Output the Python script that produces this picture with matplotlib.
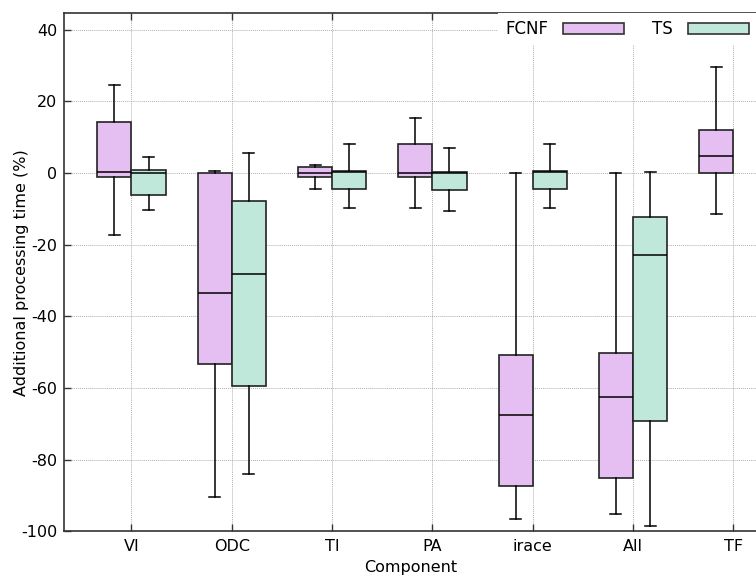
import matplotlib
matplotlib.use("Agg")
import matplotlib.pyplot as plt
from matplotlib.patches import Patch

plt.rcParams['font.family'] = ['DejaVu Sans']
plt.rcParams['font.size'] = 11.5

components = ["VI", "ODC", "TI", "PA", "irace", "All", "TF"]

# whisker low, q1, median, q3, whisker high  (per component)
fcnf_lo  = [-17.2, -90.4, -4.4, -9.8, -96.7, -95.1, -11.5]
fcnf_q1  = [-1.0, -53.3, -1.0, -1.0, -87.3, -85.0, 0.0]
fcnf_med = [0.3, -33.4, 0.1, 0.0, -67.4, -62.4, 4.8]
fcnf_q3  = [14.4, 0.0, 1.7, 8.0, -50.9, -50.2, 12.1]
fcnf_hi  = [24.5, 0.6, 2.3, 15.5, 0.0, 0.0, 29.7]

# TS has no TF entry
ts_lo  = [-10.4, -83.9, -9.8, -10.5, -9.8, -98.5]
ts_q1  = [-6.0, -59.3, -4.4, -4.7, -4.4, -69.1]
ts_med = [0.0, -28.3, 0.4, 0.1, 0.2, -23.0]
ts_q3  = [0.9, -7.8, 0.6, 0.3, 0.6, -12.2]
ts_hi  = [4.4, 5.7, 8.0, 7.0, 8.0, 0.3]

yticks = [40, 20, 0, -20, -40, -60, -80, -100]

fcnf_color = "#e5bef2"
ts_color = "#bfe8da"


def make_stats(lo, q1, med, q3, hi):
    return [dict(whislo=a, q1=b, med=c, q3=d, whishi=e, fliers=[])
            for a, b, c, d, e in zip(lo, q1, med, q3, hi)]


fig = plt.figure(figsize=(7.56, 5.78), dpi=100)
ax = fig.add_axes([0.0853, 0.0808, 1.0 - 0.0853, 0.9775 - 0.0808])

w = 0.34
pos = list(range(1, len(components) + 1))
common = dict(widths=w, patch_artist=True, showfliers=False,
              whiskerprops=dict(color="black", linewidth=1.1),
              capprops=dict(color="black", linewidth=1.1),
              medianprops=dict(color="black", linewidth=1.1),
              capwidths=0.11, manage_ticks=False, zorder=3)

b1 = ax.bxp(make_stats(fcnf_lo, fcnf_q1, fcnf_med, fcnf_q3, fcnf_hi),
            positions=[p - w / 2 for p in pos],
            boxprops=dict(facecolor=fcnf_color, edgecolor="#222222", linewidth=1.2),
            **common)
b2 = ax.bxp(make_stats(ts_lo, ts_q1, ts_med, ts_q3, ts_hi),
            positions=[p + w / 2 for p in pos[:len(ts_lo)]],
            boxprops=dict(facecolor=ts_color, edgecolor="#222222", linewidth=1.2),
            **common)

ax.set_xlim(0.332, 7.226)
ax.set_ylim(-100, 44.7)
ax.set_xticks(pos)
ax.set_xticklabels(components)
ax.set_yticks(yticks)
ax.set_yticklabels([str(v) for v in yticks])

ax.grid(True, linestyle=(0, (1, 1)), color="#b0b0b0", linewidth=0.7, zorder=0)
ax.set_axisbelow(True)
ax.tick_params(direction="in", top=True, bottom=True, left=True, right=False,
               length=5, width=1.0, color="#333333")
ax.tick_params(axis="x", pad=5.7)
ax.tick_params(axis="y", pad=5.3)
for s in ["top", "bottom", "left"]:
    ax.spines[s].set_linewidth(1.2)
    ax.spines[s].set_color("#333333")
ax.spines["right"].set_visible(False)

ax.set_xlabel("Component", labelpad=4.5)
ax.set_ylabel("Additional processing time (%)")
ax.yaxis.set_label_coords(-0.0513, 0.5)

handles = [Patch(facecolor=fcnf_color, edgecolor="#333333", linewidth=1.2),
           Patch(facecolor=ts_color, edgecolor="#333333", linewidth=1.2)]
leg = ax.legend(handles, ["FCNF", "TS"], loc="upper right", ncol=2,
                markerfirst=False, bbox_to_anchor=(1.0, 1.0), borderaxespad=0.0,
                borderpad=0.42, handlelength=3.65, handleheight=0.62,
                handletextpad=0.9, columnspacing=1.72, fontsize=12,
                frameon=True, fancybox=False, framealpha=1.0)
leg.get_frame().set_edgecolor("none")
leg.get_frame().set_facecolor("white")
leg.set_zorder(5)

fig.savefig("out.png", dpi=100)
